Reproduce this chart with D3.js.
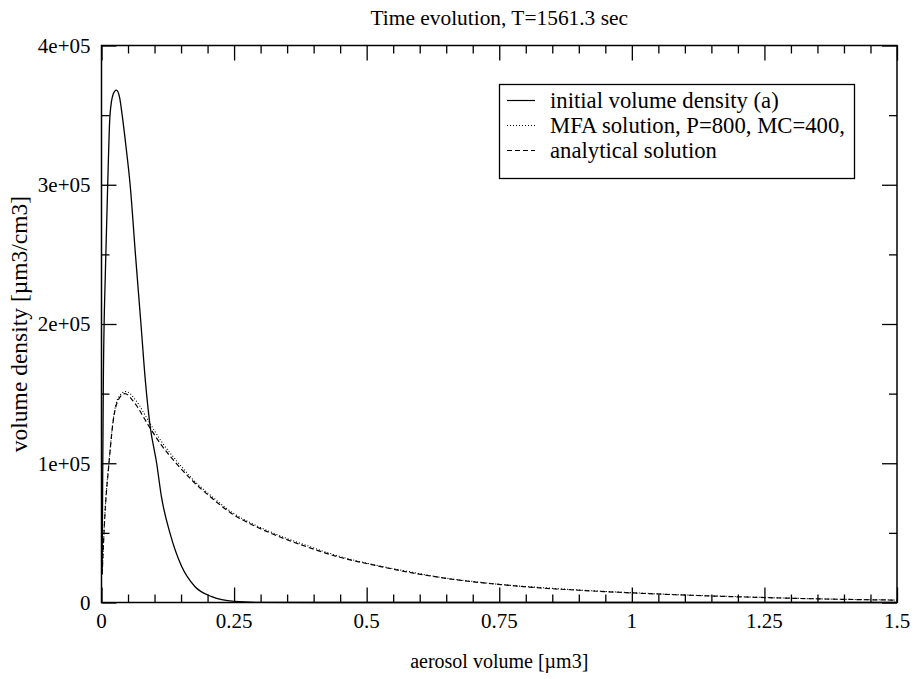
<!DOCTYPE html>
<html>
<head>
<meta charset="utf-8">
<script src="https://cdn.jsdelivr.net/npm/d3@7"></script>
<style>
  body { margin: 0; background: #fff; }
  svg text { font-family: "Liberation Serif", "Times New Roman", serif; fill: #000; }
</style>
</head>
<body>
<div id="chart"></div>
<script>
/* Time evolution of aerosol volume density */

// initial volume density (a)
const initialX = [0.0012, 0.002, 0.0035, 0.0075, 0.0117, 0.016, 0.022, 0.028, 0.034, 0.039, 0.046, 0.054, 0.064, 0.0744, 0.083, 0.0914, 0.104, 0.113, 0.129, 0.151, 0.176, 0.208, 0.25, 0.3, 0.4, 0.6, 1.0, 1.5];
const initialY = [22000, 75000, 160000, 240000, 300000, 350000, 365000, 368000, 363000, 350000, 328000, 300000, 250000, 200000, 158000, 127500, 100000, 76000, 50000, 26000, 11500, 4200, 800, 100, 0, 0, 0, 0];

// analytical solution
const analyticX = [0.0012, 0.0066, 0.0141, 0.0223, 0.0317, 0.044, 0.063, 0.088, 0.113, 0.1385, 0.17, 0.208, 0.245, 0.283, 0.324, 0.387, 0.449, 0.512, 0.575, 0.638, 0.701, 0.764, 0.826, 0.9, 0.983, 1.109, 1.235, 1.316, 1.5];
const analyticY = [20000, 64000, 100000, 131000, 145500, 150000, 143000, 127500, 113000, 101000, 88000, 75000, 64000, 56000, 49000, 40000, 32500, 27000, 22000, 18000, 14800, 12500, 10500, 8800, 7200, 5200, 3700, 2900, 1700];

// MFA solution, P=800, MC=400 (dotted, slightly noisy)
const mfaX = [0.0012, 0.0066, 0.0141, 0.0223, 0.0317, 0.046, 0.065, 0.09, 0.115, 0.14, 0.172, 0.21, 0.247, 0.285, 0.326, 0.39, 0.45, 0.515, 0.578, 0.64, 0.703, 0.766, 0.83, 0.903, 0.985, 1.11, 1.237, 1.32, 1.5];
const mfaY = [21000, 65000, 101000, 132000, 147000, 151500, 145000, 129500, 114500, 102500, 88500, 75500, 64500, 56500, 49500, 40500, 33000, 27000, 22300, 18000, 15000, 12500, 10700, 8900, 7300, 5300, 3800, 2900, 1800];

const xMajor = [0, 0.25, 0.5, 0.75, 1, 1.25, 1.5];
const xLabels = ["0", "0.25", "0.5", "0.75", "1", "1.25", "1.5"];
const yMajor = [0, 100000, 200000, 300000, 400000];
const yLabels = ["0", "1e+05", "2e+05", "3e+05", "4e+05"];

const legendNames = ["initial volume density (a)", "MFA solution, P=800, MC=400,", "analytical solution"];
const legendDash = [null, "1,2", "5,3"];

const width = 916, height = 679;
const margin = ({ top: 45.5, right: 19, bottom: 76.5, left: 101.5 });

const svg = d3.select("#chart").append("svg")
    .attr("width", width)
    .attr("height", height);

const x = d3.scaleLinear().domain([0, 1.5]).range([margin.left, width - margin.right]);
const y = d3.scaleLinear().domain([0, 400000]).range([height - margin.bottom, margin.top]);

const xMinor = d3.range(0, 1.5001, 0.05).filter(v => Math.abs(v / 0.25 - Math.round(v / 0.25)) > 1e-6);
const yMinor = d3.range(50000, 400000, 100000);

// ticks point inward on all four sides
function addAxis(axis, tx, ty) {
    svg.append("g")
        .attr("transform", `translate(${tx},${ty})`)
        .call(axis)
        .call(g => g.select(".domain").remove())
        .call(g => g.selectAll("line").attr("stroke", "#000").attr("stroke-width", 1.3));
}
const bottomY = y(0), topY = y(400000), leftX = x(0), rightX = x(1.5);

addAxis(d3.axisBottom(x).tickValues(xMinor).tickSize(-8).tickFormat(""), 0, bottomY);
addAxis(d3.axisBottom(x).tickValues(xMajor).tickSize(-15).tickFormat(""), 0, bottomY);
addAxis(d3.axisTop(x).tickValues(xMinor).tickSize(-8).tickFormat(""), 0, topY);
addAxis(d3.axisTop(x).tickValues(xMajor).tickSize(-15).tickFormat(""), 0, topY);
addAxis(d3.axisLeft(y).tickValues(yMinor).tickSize(-8).tickFormat(""), leftX, 0);
addAxis(d3.axisLeft(y).tickValues(yMajor).tickSize(-15).tickFormat(""), leftX, 0);
addAxis(d3.axisRight(y).tickValues(yMinor).tickSize(-8).tickFormat(""), rightX, 0);
addAxis(d3.axisRight(y).tickValues(yMajor).tickSize(-15).tickFormat(""), rightX, 0);

// frame
svg.append("rect")
    .attr("x", leftX).attr("y", topY)
    .attr("width", rightX - leftX).attr("height", bottomY - topY)
    .attr("fill", "none").attr("stroke", "#000").attr("stroke-width", 1.5);

// tick labels
svg.append("g").selectAll("text")
    .data(xMajor)
    .join("text")
    .attr("x", d => x(d))
    .attr("y", bottomY + 25)
    .attr("text-anchor", "middle")
    .style("font-size", "21px")
    .text((d, i) => xLabels[i]);

svg.append("g").selectAll("text")
    .data(yMajor)
    .join("text")
    .attr("x", leftX - 11)
    .attr("y", d => y(d))
    .attr("dy", "0.35em")
    .attr("text-anchor", "end")
    .style("font-size", "21px")
    .text((d, i) => yLabels[i]);

// curves
const line = (xs, ys) => d3.line()
    .x(i => x(xs[i]))
    .y(i => y(ys[i]))
    .curve(d3.curveMonotoneX)(d3.range(xs.length));

svg.append("path")
    .attr("d", line(initialX, initialY))
    .attr("fill", "none").attr("stroke", "#000").attr("stroke-width", 1.3);

svg.append("path")
    .attr("d", line(mfaX, mfaY))
    .attr("fill", "none").attr("stroke", "#000").attr("stroke-width", 1.1)
    .attr("stroke-dasharray", legendDash[1]);

svg.append("path")
    .attr("d", line(analyticX, analyticY))
    .attr("fill", "none").attr("stroke", "#000").attr("stroke-width", 1.2)
    .attr("stroke-dasharray", legendDash[2]);

// legend
const legend = svg.append("g");
legend.append("rect")
    .attr("x", 499.5).attr("y", 84.5)
    .attr("width", 355).attr("height", 94)
    .attr("fill", "#fff").attr("stroke", "#000").attr("stroke-width", 1.3);

const rows = legend.selectAll(".row")
    .data(legendNames)
    .join("g")
    .attr("class", "row")
    .attr("transform", (d, i) => `translate(0,${100.5 + i * 25})`);

rows.append("line")
    .attr("x1", 507).attr("x2", 535)
    .attr("stroke", "#000").attr("stroke-width", 1.2)
    .attr("stroke-dasharray", (d, i) => legendDash[i]);

rows.append("text")
    .attr("x", 550)
    .attr("dy", "0.33em")
    .style("font-size", "22.7px")
    .text(d => d);

// titles
svg.append("text")
    .attr("x", (leftX + rightX) / 2)
    .attr("y", 25)
    .attr("text-anchor", "middle")
    .style("font-size", "21.4px")
    .text("Time evolution, T=1561.3 sec");

svg.append("text")
    .attr("x", (leftX + rightX) / 2)
    .attr("y", 668)
    .attr("text-anchor", "middle")
    .style("font-size", "20px")
    .text("aerosol volume [µm3]");

svg.append("text")
    .attr("transform", `translate(27,${(topY + bottomY) / 2}) rotate(-90)`)
    .attr("text-anchor", "middle")
    .style("font-size", "23.5px")
    .text("volume density [µm3/cm3]");
</script>
</body>
</html>
